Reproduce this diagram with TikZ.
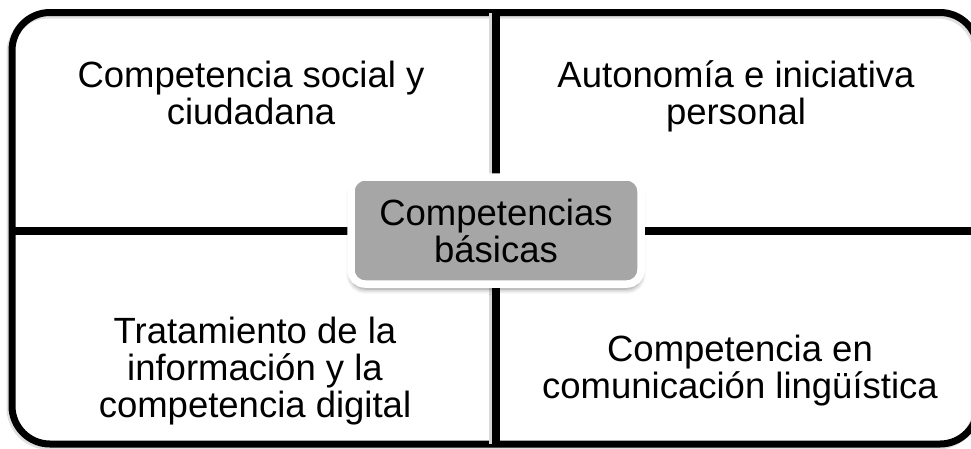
\documentclass[tikz,border=0pt]{standalone}
\usepackage{fontspec}
\setmainfont{Liberation Sans}
\usetikzlibrary{positioning,shadows,shadows.blur}
\definecolor{hubgray}{RGB}{166,166,166}

\begin{document}
\begin{tikzpicture}[x=1pt,y=-1pt,
	quadtext/.style={align=center, inner sep=0pt, anchor=base, font=\fontsize{36.5}{37}\selectfont},
	hubbox/.style={rounded corners=14pt, fill=hubgray, draw=white, line width=7.5pt, minimum width=290pt, minimum height=107pt, align=center, inner sep=0pt, font=\fontsize{36.5}{37}\selectfont, blur shadow={shadow blur steps=8, shadow blur extra rounding=3pt, shadow xshift=0pt, shadow yshift=-5pt, shadow opacity=45, shadow blur radius=5pt}},
	divider/.style={black, line width=8pt}]
		\useasboundingbox (0,0) rectangle (971,448);
		\draw [black!12, line width=7pt, rounded corners=38pt] (10,15) rectangle (976,446);
		\draw [black, line width=7pt, rounded corners=38pt] (12,12.5) rectangle (978,444);

		\coordinate (vtop) at (496,12.5);
		\coordinate (vbot) at (496,444);
		\coordinate (hleft) at (12,231);
		\coordinate (hright) at (978,231);
		\draw [black!15, line width=4pt] ([xshift=-5pt]vtop) -- ([xshift=-5pt]vbot);
		\draw [divider] (vtop) -- (vbot);
		\draw [divider] (hleft) -- (hright);

		\node (hub) at (496,230.5) [hubbox] {Competencias\\básicas};

		\node (social) at (251,124) [quadtext] {Competencia social y\\ciudadana};
		\node (autonomia) at (736,124) [quadtext] {Autonomía e iniciativa\\personal};
		\node (digital) at (255,417) [quadtext] {Tratamiento de la\\información y la\\competencia digital};
		\node (linguistica) at (740,398) [quadtext] {Competencia en\\comunicación lingüística};
	\end{tikzpicture}
\end{document}
